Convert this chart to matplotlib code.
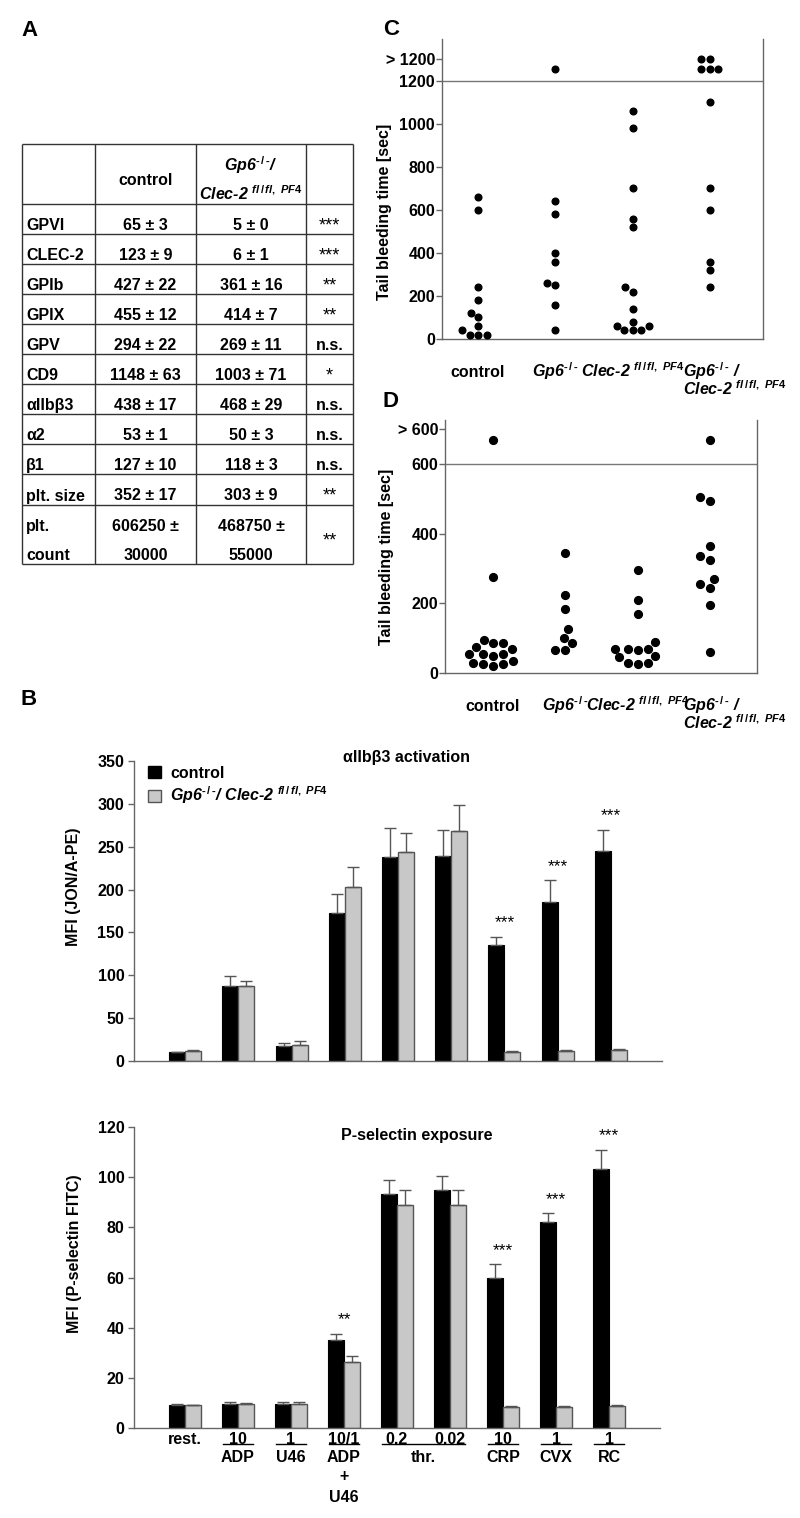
import numpy as np
import matplotlib
matplotlib.use('Agg')
import matplotlib.pyplot as plt
from matplotlib.patches import Patch
from matplotlib.transforms import offset_copy

plt.rcParams['font.family'] = ['Liberation Sans', 'DejaVu Sans']
plt.rcParams['font.weight'] = 'bold'
plt.rcParams['axes.labelweight'] = 'bold'
plt.rcParams['font.size'] = 11.5
plt.rcParams['mathtext.fontset'] = 'custom'
plt.rcParams['mathtext.rm'] = 'Liberation Sans:bold'
plt.rcParams['mathtext.it'] = 'Liberation Sans:italic:bold'
plt.rcParams['mathtext.bf'] = 'Liberation Sans:bold'

GP6 = r'Gp6$^{\mathit{‐\,/\,‐}}$'
CLEC = r'Clec-2 $^{\mathit{fl\,/\,fl,\ PF4}}$'

# ---------------- data ----------------
# A: surface glycoproteins table
tbl_header = ['', 'control', GP6 + '/\n' + CLEC, '']
tbl_rows = ['GPVI', 'CLEC-2', 'GPIb', 'GPIX', 'GPV', 'CD9', 'αIIbβ3', 'α2', 'β1',
            'plt. size', 'plt.\ncount']
tbl_control = ['65 ± 3', '123 ± 9', '427 ± 22', '455 ± 12', '294 ± 22', '1148 ± 63',
               '438 ± 17', '53 ± 1', '127 ± 10', '352 ± 17', '606250 ±\n30000']
tbl_dko = ['5 ± 0', '6 ± 1', '361 ± 16', '414 ± 7', '269 ± 11', '1003 ± 71',
           '468 ± 29', '50 ± 3', '118 ± 3', '303 ± 9', '468750 ±\n55000']
tbl_sig = ['***', '***', '**', '**', 'n.s.', '*', 'n.s.', 'n.s.', 'n.s.', '**', '**']

# C / D: tail bleeding times (values above the cut-off drawn in the "> x" band)
genotypes = ['control', GP6, CLEC, GP6 + ' /\n' + CLEC]
c_control = [660, 600, 240, 180, 120, 100, 60, 40, 20, 20, 20]
c_gp6 = [1255, 640, 580, 400, 360, 260, 250, 160, 40]
c_clec2 = [1060, 980, 700, 560, 520, 240, 220, 140, 80, 60, 60, 40, 40, 40]
c_dko = [1300, 1300, 1255, 1255, 1255, 1100, 700, 600, 360, 320, 240]
c_ticks = [0, 200, 400, 600, 800, 1000, 1200, 1300]
c_ticklabels = ['0', '200', '400', '600', '800', '1000', '1200', '> 1200']

d_control = [670, 275, 95, 85, 85, 75, 70, 55, 55, 55, 50, 35, 30, 25, 25, 20]
d_gp6 = [345, 225, 185, 125, 100, 85, 65, 65]
d_clec2 = [295, 210, 170, 90, 70, 70, 70, 65, 50, 45, 30, 30, 25]
d_dko = [670, 505, 495, 365, 335, 325, 270, 255, 245, 195, 60]
d_ticks = [0, 200, 400, 600, 700]
d_ticklabels = ['0', '200', '400', '600', '> 600']

# B: flow cytometry
b_dose = ['rest.', '10', '1', '10/1', '0.2', '0.02', '10', '1', '1']
b_agonist = ['', 'ADP', 'U46', 'ADP\n+\nU46', 'thr.', 'thr.', 'CRP', 'CVX', 'RC']

jon_ctrl = [10.5, 88, 18, 173, 238, 239, 135, 186, 245]
jon_ctrl_sem = [0.5, 11, 3.5, 22, 34, 31, 10, 25, 25]
jon_dko = [12, 87, 18.6, 203, 244, 268.5, 10.5, 12, 13.2]
jon_dko_sem = [0.8, 6, 4.7, 23.5, 22, 30.5, 1.2, 0.8, 0.8]
jon_sig = ['', '', '', '', '', '', '***', '***', '***']

ps_ctrl = [9.0, 9.6, 9.6, 35.0, 93.3, 94.8, 59.7, 82.1, 103.1]
ps_ctrl_sem = [0.4, 0.8, 0.8, 2.6, 5.4, 5.8, 5.5, 3.5, 7.7]
ps_dko = [9.2, 9.6, 9.7, 26.3, 89.0, 89.0, 8.5, 8.5, 8.9]
ps_dko_sem = [0.1, 0.2, 0.5, 2.5, 6.0, 6.0, 0.3, 0.3, 0.3]
ps_sig = ['', '', '', '**', '', '', '***', '***', '***']

# ---------------- figure ----------------
W, H = 800, 1518
fig = plt.figure(figsize=(W / 100, H / 100), dpi=100)


def px_rect(l, t, r, b):
    return [l / W, 1 - b / H, (r - l) / W, (b - t) / H]


# overlay in pixel coordinates for table and panel letters
ax0 = fig.add_axes([0, 0, 1, 1])
ax0.set_xlim(0, W)
ax0.set_ylim(H, 0)
ax0.axis('off')

for letter, x, y in [('A', 21, 36), ('C', 383, 35), ('D', 383, 407), ('B', 21, 705)]:
    ax0.text(x, y, letter, fontsize=16, ha='left', va='baseline')

# table
col_x = [22, 95, 196, 306, 353]
row_y = [144, 204, 234, 264, 294, 324, 354, 384, 414, 444, 474, 505, 564]
ax0.hlines(row_y, col_x[0], col_x[-1], color='#333333', lw=1)
ax0.vlines(col_x, row_y[0], row_y[-1], color='#333333', lw=1)


def cell_text(x, r, s, ha='center', **kw):
    yc = (row_y[r] + row_y[r + 1]) / 2 + 5
    lines = s.split('\n')
    n = len(lines)
    for k, line in enumerate(lines):
        yb = yc + 6 + (k - (n - 1) / 2) * 29
        ax0.text(x, yb, line, ha=ha, va='baseline', **kw)


col_c = [(col_x[i] + col_x[i + 1]) / 2 for i in range(4)]
for c, s in enumerate(tbl_header):
    if s:
        cell_text(col_c[c], 0, s, style='italic' if c == 2 else 'normal')
for r in range(len(tbl_rows)):
    cell_text(col_x[0] + 4, r + 1, tbl_rows[r], ha='left')
    cell_text(col_c[1], r + 1, tbl_control[r])
    cell_text(col_c[2], r + 1, tbl_dko[r])
    if 'n.s.' in tbl_sig[r]:
        cell_text(col_c[3], r + 1, tbl_sig[r])
    else:
        cell_text(col_c[3], r + 1, tbl_sig[r], fontweight='normal', fontsize=13)


# ---------- scatter panels ----------
def swarm(ax, x0, vals, d):
    pts = ax.transData.transform(np.column_stack([np.full(len(vals), x0), vals]))
    ypx = pts[:, 1]
    ppu_x = ax.transData.transform((x0 + 1, 0))[0] - ax.transData.transform((x0, 0))[0]
    cands = sorted(np.arange(-40, 40.01, 0.5), key=lambda c: (abs(c), c))
    placed = []
    offs = np.zeros(len(vals))
    for i in np.argsort(vals, kind='stable'):
        for c in cands:
            if all((c - px) ** 2 + (ypx[i] - py) ** 2 >= d * d for px, py in placed):
                break
        placed.append((c, ypx[i]))
        offs[i] = c / ppu_x
    return offs


def scatter_panel(ax, groups, ticks, ticklabels, cutoff, ylim, xlim, ms):
    ax.set_xlim(*xlim)
    ax.set_ylim(0, ylim)
    for s in ['left', 'right', 'bottom']:
        ax.spines[s].set_color('#666666')
        ax.spines[s].set_linewidth(1)
    ax.spines['top'].set_visible(False)
    ax.axhline(cutoff, color='#777777', lw=1)
    ax.set_xticks([])
    ax.set_yticks(ticks)
    ax.set_yticklabels(ticklabels)
    ax.tick_params(axis='y', length=4, width=1, color='#666666', pad=1, labelsize=11.5)
    d = ms * 100 / 72 * 1.25
    for i, vals in enumerate(groups):
        offs = swarm(ax, i + 1, vals, d)
        ax.plot(i + 1 + offs, vals, 'o', color='black', ms=ms, clip_on=False, zorder=3)
    for i, lab in enumerate(genotypes):
        last = i == len(genotypes) - 1
        for k, line in enumerate(lab.split('\n')):
            ax.annotate(line, xy=(i + 1, 0), xycoords='data',
                        xytext=(-27 if last else 0, -38 - 18 * k), textcoords='offset pixels',
                        ha='left' if last else 'center', va='baseline', fontsize=11.5,
                        style='normal' if lab == 'control' else 'italic')
    ax.set_ylabel('Tail bleeding time [sec]', fontsize=11.5, va='center')


axC = fig.add_axes(px_rect(442, 39, 763, 339))
scatter_panel(axC, [c_control, c_gp6, c_clec2, c_dko], c_ticks, c_ticklabels,
              1200, 1395, (0.534, 4.686), 4.8)
axC.yaxis.set_label_coords(-0.178, 0.423)

axD = fig.add_axes(px_rect(445, 420, 757, 673))
scatter_panel(axD, [d_control, d_gp6, d_clec2, d_dko], d_ticks, d_ticklabels,
              600, 727, (0.336, 4.65), 5.6)
axD.yaxis.set_label_coords(-0.186, 0.4585)


# ---------- bar panels ----------
def bar_panel(ax, ctrl, ctrl_sem, dko, dko_sem, sig, ymax, step, title, tx, ty, ylabel):
    x = np.arange(len(ctrl))
    w = 0.3
    ctrl, ctrl_sem = np.array(ctrl), np.array(ctrl_sem)
    dko, dko_sem = np.array(dko), np.array(dko_sem)
    ax.bar(x - w / 2, ctrl, w, color='black', edgecolor='black', lw=0.8, zorder=2)
    ax.bar(x + w / 2, dko, w, color='#c8c8c8', edgecolor='#555555', lw=1, zorder=2)
    for xx, yy, ee in [(x - w / 2, ctrl, ctrl_sem), (x + w / 2, dko, dko_sem)]:
        ax.errorbar(xx, yy, yerr=[np.zeros_like(ee), ee], fmt='none', ecolor='#555555',
                    elinewidth=1, capsize=4, capthick=1, zorder=3)
    for i, s in enumerate(sig):
        if s:
            top = max(ctrl[i] + ctrl_sem[i], dko[i] + dko_sem[i])
            ax.annotate(s, xy=(x[i], top), xytext=(0, 14), textcoords='offset pixels',
                        ha='center', va='center', fontsize=12.5, fontweight='normal')
    ax.set_xlim(-0.96, 8.96)
    ax.set_ylim(0, ymax)
    ax.set_yticks(np.arange(0, ymax + 1, step))
    ax.set_xticks([])
    for s in ['top', 'right']:
        ax.spines[s].set_visible(False)
    for s in ['left', 'bottom']:
        ax.spines[s].set_color('#666666')
        ax.spines[s].set_linewidth(1)
    ax.tick_params(axis='y', length=4, width=1, color='#666666', pad=3, labelsize=11.5)
    ax.text(tx, ty, title, transform=ax.transAxes, ha='center', va='center', fontsize=11.5)
    ax.set_ylabel(ylabel, fontsize=11.5, va='center')
    ax.yaxis.set_label_coords(-0.114, 0.58)


axB1 = fig.add_axes(px_rect(134, 761, 662, 1061))
bar_panel(axB1, jon_ctrl, jon_ctrl_sem, jon_dko, jon_dko_sem, jon_sig, 350, 50,
          'αIIbβ3 activation', 0.517, 1.013, 'MFI (JON/A-PE)')
leg = axB1.legend(handles=[Patch(facecolor='black', edgecolor='black', label='control'),
                           Patch(facecolor='#c8c8c8', edgecolor='#555555',
                                 label=GP6 + '/ ' + CLEC)],
                  loc='upper left', bbox_to_anchor=(0.026, 0.985), frameon=False,
                  borderpad=0, borderaxespad=0, handlelength=0.8, handleheight=0.8,
                  handletextpad=0.6, labelspacing=0.25, fontsize=11.5)
leg.get_texts()[1].set_fontstyle('italic')

axB2 = fig.add_axes(px_rect(134, 1127, 660, 1428))
bar_panel(axB2, ps_ctrl, ps_ctrl_sem, ps_dko, ps_dko_sem, ps_sig, 120, 20,
          'P-selectin exposure', 0.538, 0.973, 'MFI (P-selectin FITC)')

# agonist labels under lower panel
for i, d in enumerate(b_dose):
    axB2.annotate(d, xy=(i, 0), xytext=(0, -11), textcoords='offset pixels',
                  ha='center', va='center', fontsize=11.5, annotation_clip=False)
uline = offset_copy(axB2.transData, fig=fig, x=0, y=-16, units='dots')
i = 0
while i < len(b_agonist):
    j = i
    while j + 1 < len(b_agonist) and b_agonist[j + 1] == b_agonist[i]:
        j += 1
    if b_agonist[i]:
        axB2.plot([i - 0.28, j + 0.28], [0, 0], color='black', lw=1,
                  transform=uline, clip_on=False)
        for k, line in enumerate(b_agonist[i].split('\n')):
            axB2.annotate(line, xy=((i + j) / 2, 0), xytext=(0, -29 - 20 * k),
                          textcoords='offset pixels', ha='center', va='center',
                          fontsize=11.5, annotation_clip=False)
    i = j + 1

fig.savefig('out.png', dpi=100)
